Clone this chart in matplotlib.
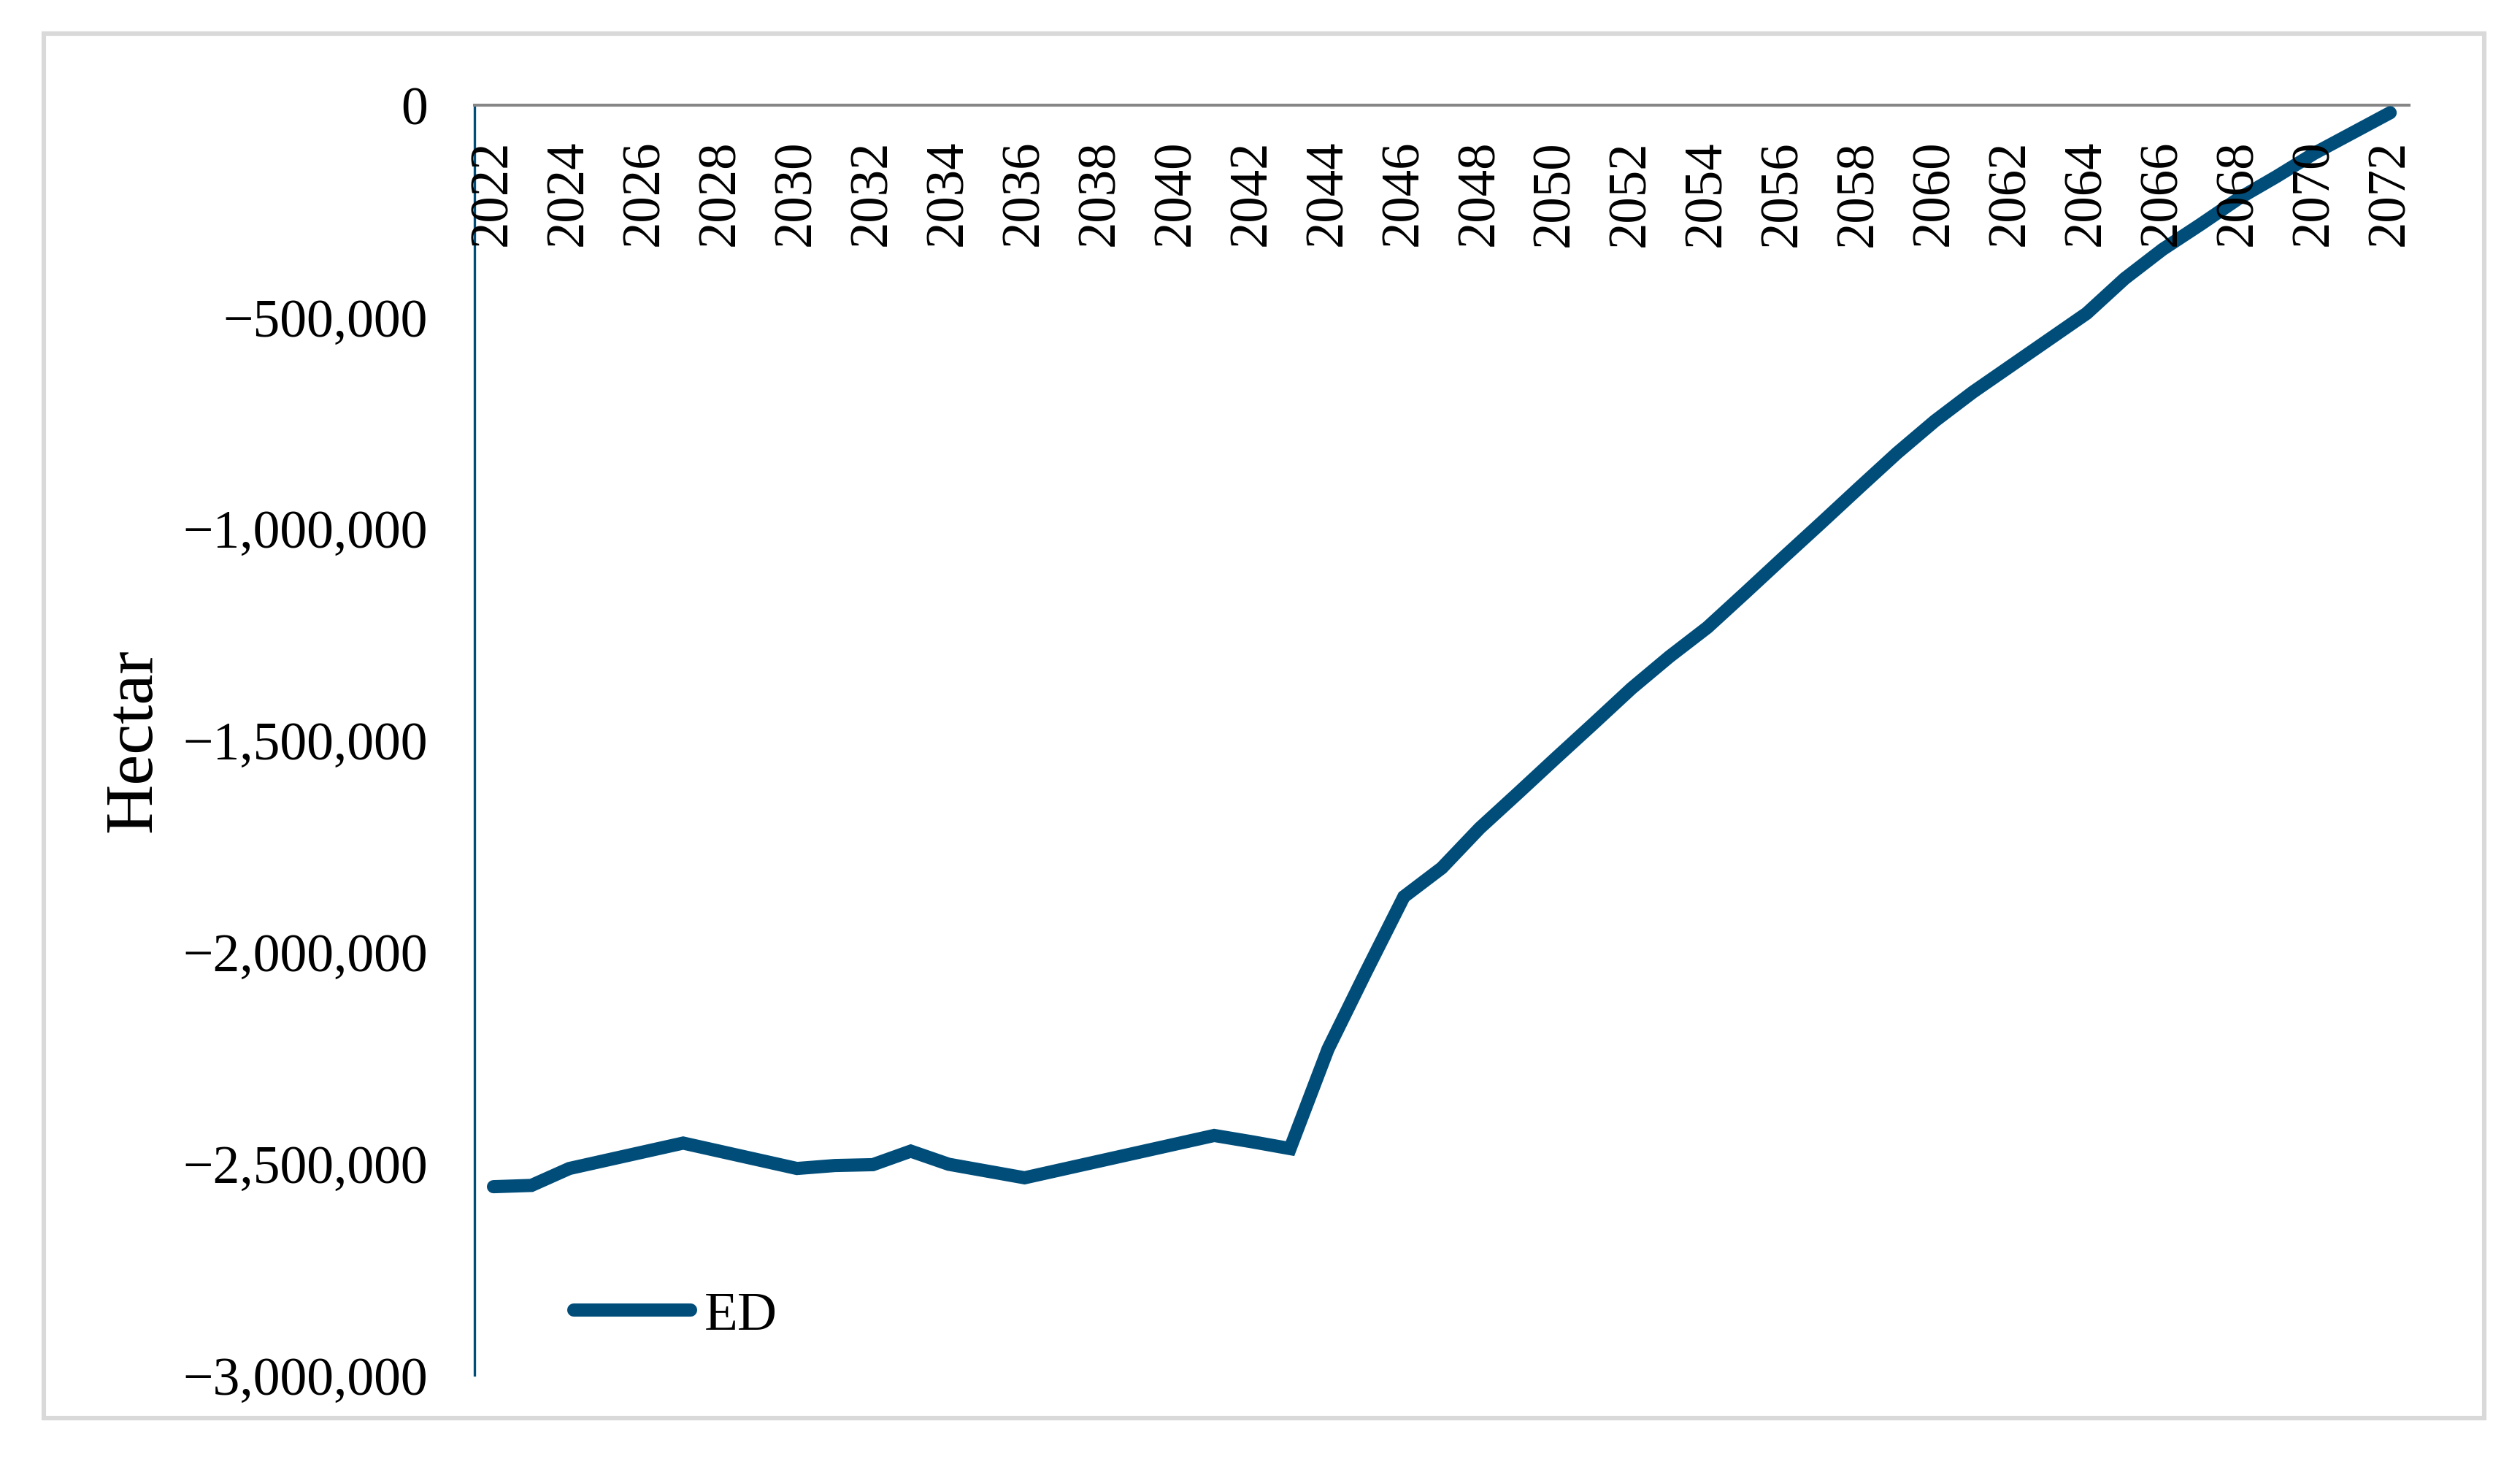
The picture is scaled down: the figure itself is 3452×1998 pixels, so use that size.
import matplotlib
matplotlib.use('Agg')
import matplotlib.pyplot as plt
from matplotlib.patches import Rectangle

plt.rcParams['font.family'] = ['Liberation Serif', 'DejaVu Serif']
plt.rcParams['axes.unicode_minus'] = True

years = list(range(2022, 2073))
ed = [-2555000, -2552000, -2512000, -2492000, -2472000, -2452000, -2472000,
      -2492000, -2512000, -2505000, -2503000, -2471000, -2502000, -2518000,
      -2534000, -2514000, -2494000, -2474000, -2454000, -2434000, -2449000,
      -2465000, -2230000, -2048000, -1870000, -1802000, -1708000, -1626000,
      -1543000, -1461000, -1378000, -1303000, -1234000, -1152000, -1069000,
      -987000, -904000, -822000, -746000, -678000, -616000, -554000,
      -492000, -410000, -341000, -282000, -221000, -169000, -114000,
      -66000, -18000]
yticks = [0, -500000, -1000000, -1500000, -2000000, -2500000, -3000000]
ytick_labels = ['0', '\u2212500,000', '\u22121,000,000', '\u22121,500,000',
                '\u22122,000,000', '\u22122,500,000', '\u22123,000,000']
xlabel_years = years[::2]

LINE_COLOR = '#004D7A'

fig = plt.figure(figsize=(17.26, 9.995), dpi=200)
ax = fig.add_axes([0.1883, 0.0575, 0.7677, 0.8700])

# outer chart border
fig.patches.append(Rectangle((0.0174, 0.0280), 0.9684, 0.9485, transform=fig.transFigure,
                             fill=False, edgecolor='#D9D9D9', linewidth=2.2))

x = list(range(len(years)))
ax.plot(x, ed, color=LINE_COLOR, linewidth=6.5, solid_capstyle='round',
        solid_joinstyle='miter', label='ED', zorder=3, clip_on=False)

ax.set_xlim(-0.5, len(years) - 0.5)
ax.set_ylim(-3000000, 0)

ax.spines['bottom'].set_visible(False)
ax.spines['right'].set_visible(False)
ax.spines['top'].set_color('#868686')
ax.spines['top'].set_linewidth(1.45)
ax.spines['left'].set_color(LINE_COLOR)
ax.spines['left'].set_linewidth(1.2)

ax.set_yticks(yticks)
ax.set_yticklabels(ytick_labels, fontsize=26.5)
ax.tick_params(axis='y', length=0, pad=23)

ax.set_xticks([])
for yr in xlabel_years:
    ax.text(years.index(yr), 0.973, str(yr), transform=ax.get_xaxis_transform(),
            rotation=90, ha='center', va='top', fontsize=26.2)

ax.set_ylabel('Hectar', fontsize=34)
ax.yaxis.set_label_coords(-0.16, 0.5)

ax.legend(loc='center left', bbox_to_anchor=(0.0513, 0.0466), frameon=False,
          fontsize=27, handlelength=2.13, handletextpad=0.25, borderpad=0,
          borderaxespad=0)

fig.savefig('out.png', dpi=200)
